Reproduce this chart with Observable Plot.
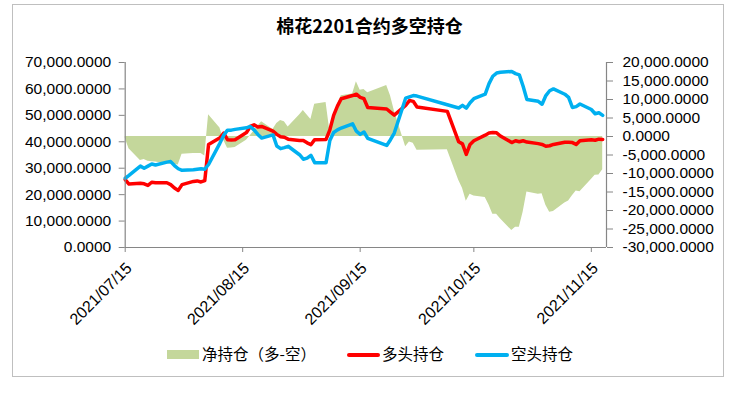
<!DOCTYPE html>
<html>
<head>
<meta charset="utf-8">
<script src="https://cdn.jsdelivr.net/npm/d3@7"></script>
<script src="https://cdn.jsdelivr.net/npm/@observablehq/plot@0.6"></script>
<style>
  html, body { margin: 0; padding: 0; background: #fff; }
  #wrap { position: relative; width: 739px; height: 403px; background: #fff; overflow: hidden; }
  #frame { position: absolute; left: 12px; top: 4px; width: 712px; height: 373px; border: 1.5px solid #bfbfbf; box-sizing: border-box; }
  #chart { position: absolute; left: 0; top: 0; }
  #title { position: absolute; left: 0; top: 12px; width: 739px; text-align: center; font: 700 18px "Noto Sans CJK SC", sans-serif; color: #000; }
  .lg { position: absolute; font: 15.5px "Noto Sans CJK SC", sans-serif; color: #000; top: 342px; line-height: 22px; }
  .sw { position: absolute; }
</style>
</head>
<body>
<div id="wrap">
  <div id="frame"></div>
  <div id="chart"></div>
  <div id="title">棉花2201合约多空持仓</div>
  <div class="sw" style="left:167px;top:350px;width:32px;height:9px;background:#c4d79b"></div>
  <div class="lg" style="left:202px">净持仓（多-空）</div>
  <div class="sw" style="left:347px;top:353px;width:33px;height:4px;background:#ff0000;border-radius:2px"></div>
  <div class="lg" style="left:382px">多头持仓</div>
  <div class="sw" style="left:475px;top:353px;width:34px;height:4px;background:#00b0f0;border-radius:2px"></div>
  <div class="lg" style="left:511px">空头持仓</div>
</div>
<script>
const dates = ["2021-07-15","2021-07-16","2021-07-19","2021-07-20","2021-07-21","2021-07-22","2021-07-23","2021-07-26","2021-07-27","2021-07-28","2021-07-29","2021-07-30",
"2021-08-02","2021-08-03","2021-08-04","2021-08-05","2021-08-06","2021-08-09","2021-08-10","2021-08-11","2021-08-12","2021-08-13","2021-08-16","2021-08-17","2021-08-18","2021-08-19","2021-08-20","2021-08-23","2021-08-24","2021-08-25","2021-08-26","2021-08-27","2021-08-30","2021-08-31",
"2021-09-01","2021-09-02","2021-09-03","2021-09-06","2021-09-07","2021-09-08","2021-09-09","2021-09-10","2021-09-13","2021-09-14","2021-09-15","2021-09-16","2021-09-17","2021-09-22","2021-09-23","2021-09-24","2021-09-27","2021-09-28","2021-09-29","2021-09-30",
"2021-10-08","2021-10-11","2021-10-12","2021-10-13","2021-10-14","2021-10-15","2021-10-18","2021-10-19","2021-10-20","2021-10-21","2021-10-22","2021-10-25","2021-10-26","2021-10-27","2021-10-28","2021-10-29",
"2021-11-01","2021-11-02","2021-11-03","2021-11-04","2021-11-05","2021-11-08","2021-11-09","2021-11-10","2021-11-11","2021-11-12","2021-11-15","2021-11-16","2021-11-17","2021-11-18"];

// 多头持仓 (left axis)
const longPos = [25700,24000,24300,24100,23500,24700,24500,24500,23800,22500,21600,23800,
25000,25200,24800,25300,39000,41500,43300,40800,40700,40800,43500,45800,46400,45600,45800,44000,42800,41900,41700,41000,40500,40500,
39600,38900,40800,40900,44500,50000,53500,56300,57500,58000,56800,56300,53000,52400,51200,50100,53800,55600,55300,53200,
51500,40000,39200,35200,39000,40400,42500,43300,43500,43400,42200,39700,40400,40000,40400,39900,
39300,39000,38300,38500,39000,39800,39800,39700,39000,40400,40800,40600,41000,40900];

// 空头持仓 (left axis)
const shortPos = [26200,27300,30800,30000,30800,31600,31200,32300,32500,31000,29800,29200,
29400,29600,29800,29600,31400,39500,42500,44400,44400,44700,45300,45800,44500,42800,41400,42600,38400,37400,37800,38300,35100,33400,
33800,34900,32100,32100,40500,43500,44500,45200,46800,44000,42800,43700,41300,38600,40800,43300,56500,57000,57500,57300,
54000,52800,53800,52700,54800,56300,58000,62000,64800,66000,66300,66600,65800,65300,61000,56000,
55300,54200,57500,59300,60000,58000,56800,53000,53300,54300,52200,50600,51000,50000];

// 净持仓（多-空） (right axis)
const netPos = [-500,-3300,-6500,-6200,-6700,-6800,-6900,-7400,-7500,-7600,-7700,-4800,
-4600,-4600,-4600,-5300,5900,2300,-1000,-3200,-3100,-3000,-1000,200,1500,2800,4000,1900,3500,4300,4000,2600,5800,7000,
5800,4600,8700,9200,1500,5500,8500,11000,11500,14800,12500,12700,11800,13800,11000,7000,-2800,-1500,-1800,-3700,
-3600,-11800,-14000,-17500,-15600,-16100,-16500,-18500,-21000,-21000,-22200,-25400,-24500,-24500,-20500,-15000,
-15600,-15500,-18600,-20500,-20300,-18000,-17400,-16000,-14700,-14900,-11600,-10500,-10400,-9000];

const leftTicks = [0,10000,20000,30000,40000,50000,60000,70000];
const rightTicks = [-30000,-25000,-20000,-15000,-10000,-5000,0,5000,10000,15000,20000];
const xTickDates = ["2021-07-15","2021-08-15","2021-09-15","2021-10-15","2021-11-15"];

const rows = dates.map((d, i) => ({date: new Date(d), long: longPos[i], short: shortPos[i], net: netPos[i]}));
const toL = v => (v + 30000) * 70000 / 50000;
const loc = d3.formatLocale({decimal: ".", thousands: ",", grouping: [3], currency: ["", ""], minus: "-"});
const fmt = loc.format(",.4f");
const dfmt = d3.utcFormat("%Y/%m/%d");
const x0 = new Date("2021-07-15"), x1 = new Date("2021-11-19");
const xt = xTickDates.map(d => new Date(d));
const axisColor = "#868686";

const chart = Plot.plot({
  width: 739,
  height: 403,
  marginLeft: 124.7,
  marginRight: 133,
  marginTop: 62,
  marginBottom: 156,
  style: {fontFamily: "'Liberation Sans', Arial, sans-serif", fontSize: "15.5px", color: "#000", background: "transparent"},
  x: {type: "utc", domain: [x0, x1], label: null},
  y: {domain: [0, 70000], label: null},
  marks: [
    Plot.areaY(rows, {x: "date", y1: () => toL(0), y2: d => toL(d.net), fill: "#c4d79b"}),
    Plot.lineY(rows, {x: "date", y: "long", stroke: "#ff0000", strokeWidth: 3.5, strokeLinejoin: "round"}),
    Plot.lineY(rows, {x: "date", y: "short", stroke: "#00b0f0", strokeWidth: 3.5, strokeLinejoin: "round"}),
    Plot.ruleX([x0], {stroke: axisColor, strokeWidth: 1.2}),
    Plot.ruleX([x1], {stroke: axisColor, strokeWidth: 1.2}),
    Plot.ruleY([0], {stroke: axisColor, strokeWidth: 1.2}),
    Plot.axisY({anchor: "left", ticks: leftTicks, tickFormat: fmt, tickSize: 6, tickPadding: 8, stroke: axisColor, label: null}),
    Plot.axisY({anchor: "right", ticks: rightTicks.map(toL), tickFormat: d => fmt(Math.round(d * 50000 / 70000 - 30000)), tickSize: 6, tickPadding: 10, stroke: axisColor, label: null}),
    Plot.axisX({ticks: xt, tickFormat: () => "", tickSize: 5, stroke: axisColor, label: null}),
    Plot.text(xt, {x: d => d, frameAnchor: "bottom", text: d => dfmt(d), rotate: -45, textAnchor: "end", lineAnchor: "middle", dx: 4, dy: 18, fontSize: 16})
  ]
});
document.getElementById("chart").appendChild(chart);
</script>
</body>
</html>
